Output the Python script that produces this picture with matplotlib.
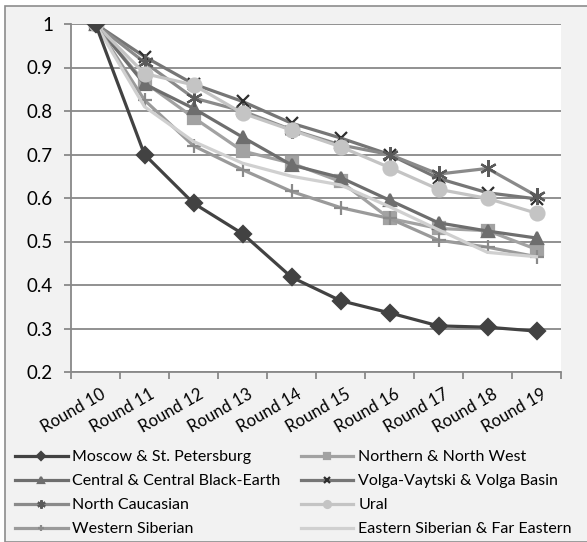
import matplotlib
matplotlib.use("Agg")
import matplotlib.pyplot as plt
from matplotlib.patches import Rectangle

plt.rcParams["font.family"] = ["Lato", "DejaVu Sans"]

# categories
ROUNDS = [f"Round {i}" for i in range(10, 20)]

# series values
moscow = [1.0, 0.700, 0.588, 0.518, 0.418, 0.364, 0.336, 0.306, 0.303, 0.294]
northern = [1.0, 0.866, 0.785, 0.708, 0.680, 0.638, 0.553, 0.530, 0.525, 0.482]
central = [1.0, 0.862, 0.806, 0.740, 0.676, 0.647, 0.595, 0.543, 0.524, 0.508]
volga = [1.0, 0.925, 0.862, 0.822, 0.772, 0.738, 0.700, 0.645, 0.612, 0.598]
n_caucasian = [1.0, 0.912, 0.830, 0.800, 0.757, 0.722, 0.700, 0.655, 0.668, 0.605]
ural = [1.0, 0.886, 0.860, 0.795, 0.756, 0.718, 0.670, 0.620, 0.599, 0.565]
w_siberian = [1.0, 0.825, 0.720, 0.665, 0.615, 0.578, 0.553, 0.503, 0.487, 0.465]
e_siberian = [1.0, 0.810, 0.730, 0.680, 0.650, 0.630, 0.580, 0.527, 0.475, 0.465]

NAMES = [
    "Moscow & St. Petersburg",
    "Northern & North West",
    "Central & Central Black-Earth",
    "Volga-Vaytski & Volga Basin",
    "North Caucasian",
    "Ural",
    "Western Siberian",
    "Eastern Siberian & Far Eastern",
]
VALUES = [moscow, northern, central, volga, n_caucasian, ural, w_siberian, e_siberian]

# (line colour, marker, marker colour, marker size)
STYLES = [
    ("#424242", "D", "#424242", 8.5),
    ("#a2a2a2", "s", "#a2a2a2", 9),
    ("#6e6e6e", "^", "#6e6e6e", 9),
    ("#767676", "x", "#2e2e2e", 9),
    ("#8a8a8a", (6, 2, 0), "#5a5a5a", 12),
    ("#c4c4c4", "o", "#c4c4c4", 10),
    ("#9a9a9a", "+", "#8a8a8a", 10),
    ("#d0d0d0", None, "#d0d0d0", 0),
]

GRID = "#888888"


def main() -> None:
    W, H = 587, 542
    fig = plt.figure(figsize=(W / 100, H / 100), dpi=100)

    # chart area (light grey, cropped on the right and bottom)
    fig.patches.append(Rectangle((5 / W, 0), 1, 1 - 6 / H, transform=fig.transFigure,
                                 facecolor="#f2f2f2", edgecolor="#8c8c8c", lw=1.2,
                                 zorder=-10))

    x0, x1, ytop, ybot = 71, 561, 24, 372
    ax = fig.add_axes([x0 / W, 1 - ybot / H, (x1 - x0) / W, (ybot - ytop) / H])
    ax.set_facecolor("white")

    xs = list(range(len(ROUNDS)))
    lines = []
    for name, vals, (lc, mk, mc, ms) in zip(NAMES, VALUES, STYLES):
        ln, = ax.plot(xs, vals, color=lc, lw=2.3, marker=mk, markersize=ms,
                      markerfacecolor=mc, markeredgecolor=mc, markeredgewidth=1.6,
                      label=name, zorder=3)
        lines.append(ln)
    # Moscow on top
    lines[0].set_zorder(5)

    ax.set_xlim(-0.5, len(ROUNDS) - 0.5)
    ax.set_ylim(0.2, 1.0)
    ax.set_yticks([0.2, 0.3, 0.4, 0.5, 0.6, 0.7, 0.8, 0.9, 1.0])
    ax.set_yticklabels(["0.2", "0.3", "0.4", "0.5", "0.6", "0.7", "0.8", "0.9", "1"])
    ax.yaxis.grid(True, color=GRID, lw=1.3)
    ax.set_axisbelow(True)

    for s in ("top", "right"):
        ax.spines[s].set_visible(False)
    for s in ("left", "bottom"):
        ax.spines[s].set_color(GRID)
        ax.spines[s].set_linewidth(1.3)

    ax.tick_params(axis="y", length=5, width=1.3, color=GRID, labelsize=13.5, pad=8)
    # ticks between categories
    ax.set_xticks([i - 0.5 for i in range(len(ROUNDS) + 1)])
    ax.set_xticklabels([])
    ax.tick_params(axis="x", length=5, width=1.3, color=GRID)
    for i, lab in enumerate(ROUNDS):
        ax.text(i + 0.1, 0.2 - 0.032, lab, rotation=30, ha="right", va="top",
                rotation_mode="anchor", fontsize=12, transform=ax.transData)

    order = [0, 2, 4, 6, 1, 3, 5, 7]
    leg = fig.legend([lines[i] for i in order], [NAMES[i] for i in order],
                     ncol=2, loc="upper left", bbox_to_anchor=(15 / W, 1 - 450 / H),
                     frameon=False, fontsize=11.5, handlelength=3.3,
                     handletextpad=0.3, columnspacing=1.25, labelspacing=0.62,
                     borderaxespad=0, borderpad=0)
    for h in leg.legend_handles:
        h.set_markersize(h.get_markersize() * 0.5)

    fig.savefig("out.png", dpi=100)
    plt.close(fig)


if __name__ == "__main__":
    main()
